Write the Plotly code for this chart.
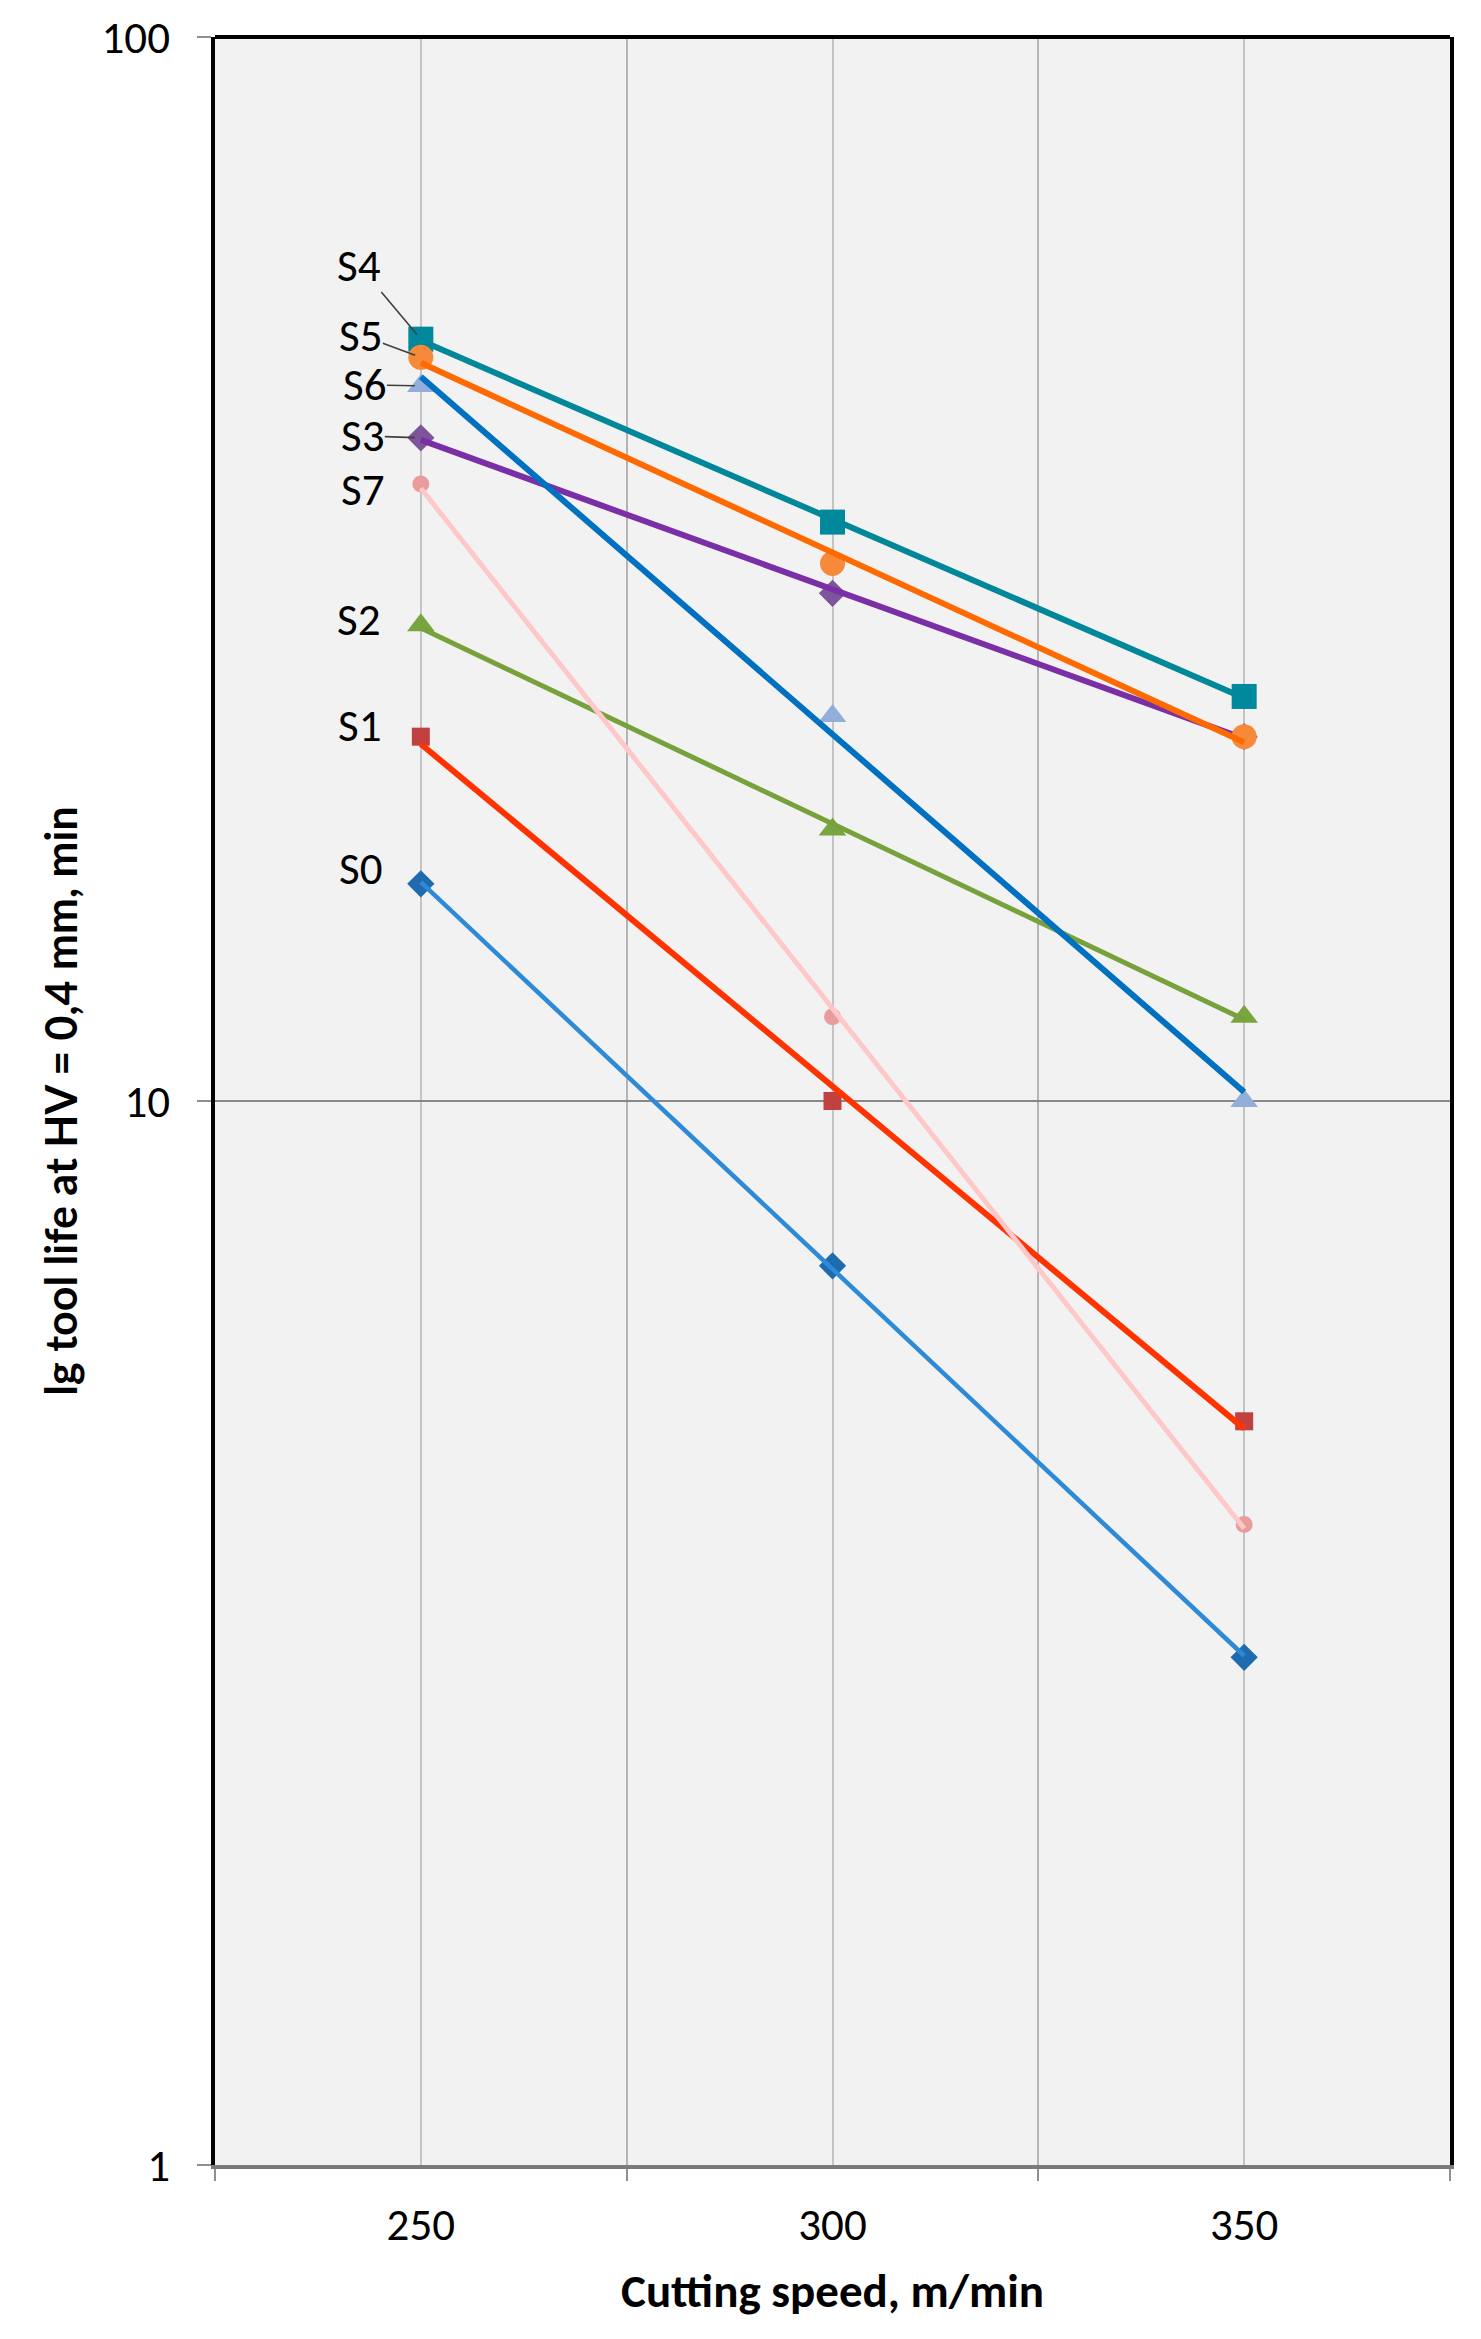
import numpy as np
import plotly.graph_objects as go

# Data (tool life, min, at HV = 0.4 mm)
SPEED = [250, 300, 350]
NAMES = ["S0", "S1", "S2", "S3", "S4", "S5", "S6", "S7"]
S0 = [16, 7, 3]
S1 = [22, 10, 5]
S2 = [28, 18, 12]
S3 = [42, 30, 22]
S4 = [52, 35, 24]
S5 = [50, 32, 22]
S6 = [47, 23, 10]
S7 = [38, 12, 4]

SERIES = {"S0": S0, "S1": S1, "S2": S2, "S3": S3,
          "S4": S4, "S5": S5, "S6": S6, "S7": S7}

# style: line colour, marker colour, marker symbol, marker size, line width
STYLE = {
    "S0": ("#2D8AD6", "#1F6BB0", "diamond", 21, 4.5),
    "S1": ("#FF3300", "#C0413F", "square", 18, 6),
    "S2": ("#77A23B", "#79A540", "triangle-up", 24, 5),
    "S3": ("#7B2FA6", "#7D5599", "diamond", 21, 6),
    "S4": ("#00879A", "#00899C", "square", 25, 6),
    "S5": ("#FF6A00", "#F68A3A", "circle", 25, 6),
    "S6": ("#0070C0", "#93AEDA", "triangle-up", 24, 6),
    "S7": ("#FFC8C8", "#E99C9C", "circle", 17, 5),
}

FONT = "Calibri, Carlito, Lato, sans-serif"


def trend(x, y):
    """Exponential trendline (straight on the log axis), like Excel."""
    k, b = np.polyfit(x, np.log10(y), 1)
    return [10 ** (k * xi + b) for xi in x]


fig = go.Figure()

for name in NAMES:
    lc, mc, sym, ms, lw = STYLE[name]
    fig.add_trace(go.Scatter(x=SPEED, y=SERIES[name], mode="markers", name=name,
                             marker=dict(color=mc, symbol=sym, size=ms, line=dict(width=0)),
                             showlegend=False))
    fig.add_trace(go.Scatter(x=SPEED, y=trend(SPEED, SERIES[name]), mode="lines",
                             line=dict(color=lc, width=lw), showlegend=False))

# series labels next to the first point
label_pos = {  # name: (ax, ay, arrow)
    "S4": (-62, -74, True),
    "S5": (-60, -22, True),
    "S6": (-56, -1, True),
    "S3": (-58, -2, True),
    "S7": (-58, 5, False),
    "S2": (-62, -6, False),
    "S1": (-61, -11, False),
    "S0": (-60, -15, False),
}
for name, (ax, ay, arrow) in label_pos.items():
    yv = np.log10(SERIES[name][0])
    if arrow:
        fig.add_annotation(x=SPEED[0], y=yv, xref="x", yref="y", text=name,
                           showarrow=True, ax=ax, ay=ay, arrowhead=0,
                           arrowwidth=1.6, arrowcolor="#404040", standoff=6,
                           borderpad=0,
                           font=dict(family=FONT, size=45, color="black"))
    else:
        fig.add_annotation(x=SPEED[0], y=yv, xref="x", yref="y", text=name,
                           showarrow=False, xshift=ax, yshift=-ay, borderpad=0,
                           font=dict(family=FONT, size=45, color="black"))

# top border of the plot area
fig.add_shape(type="line", xref="paper", yref="paper", x0=0, x1=1, y0=1, y1=1,
              line=dict(color="black", width=4))

fig.update_layout(
    width=1481, height=2339,
    margin=dict(l=207, r=39, t=29, b=182),
    paper_bgcolor="white",
    plot_bgcolor="#F2F2F2",
    font=dict(family=FONT, color="black"),
    xaxis=dict(
        range=[225, 375],
        tickvals=[250, 300, 350],
        ticks="",
        ticklabelstandoff=17,
        tickfont=dict(size=45),
        showgrid=True, gridcolor="#C4C4C4", gridwidth=2,
        minor=dict(tickvals=[225, 275, 325, 375], ticks="outside", ticklen=12,
                   tickcolor="#909090", tickwidth=2,
                   showgrid=True, gridcolor="#B4B4B4", gridwidth=2),
        showline=True, linecolor="#7A7A7A", linewidth=4,
        zeroline=False, automargin=False,
        title=dict(text="<b>Cutting speed, m/min</b>", font=dict(size=47), standoff=24),
    ),
    yaxis=dict(
        type="log",
        range=[0, 2],
        tickvals=[1, 10, 100],
        ticktext=["1", "10", "100"],
        ticks="outside", ticklen=14, tickcolor="#909090", tickwidth=2,
        ticklabelstandoff=18,
        tickfont=dict(size=45),
        showgrid=True, gridcolor="#888888", gridwidth=2,
        showline=True, linecolor="black", linewidth=4, mirror=True,
        zeroline=False, automargin=False,
        title=dict(text="<b>lg tool life at HV = 0,4 mm, min</b>",
                   font=dict(size=43, family="Lato, sans-serif"),
                   standoff=12),
    ),
)

fig.write_html("out.html")
